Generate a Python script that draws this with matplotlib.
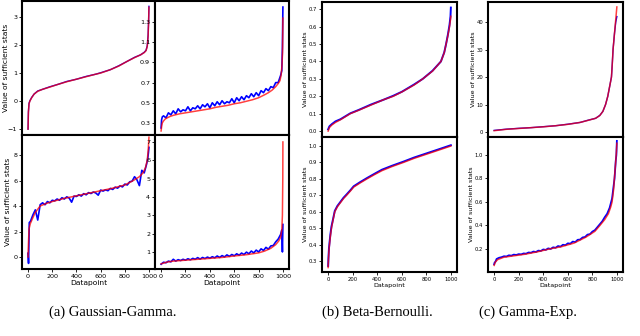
import matplotlib
matplotlib.use('Agg')
import matplotlib.pyplot as plt
import numpy as np

# ---- data ----
# (a) Gaussian-Gamma, top-left: red = estimate, blue = true (almost identical)
a_tl_x = [0, 3, 8, 15, 30, 50, 80, 120, 180, 250, 320, 400, 480, 560, 600, 680,
          750, 820, 880, 930, 960, 975, 985, 992, 996, 999]
a_tl_red = [-1.0, -0.4, -0.1, 0.0, 0.12, 0.25, 0.35, 0.42, 0.50, 0.60, 0.69, 0.78,
            0.87, 0.96, 1.0, 1.12, 1.25, 1.42, 1.55, 1.65, 1.73, 1.80, 1.95, 2.3, 2.8, 3.35]
a_tl_blue = [-1.0, -0.38, -0.08, 0.01, 0.13, 0.25, 0.36, 0.42, 0.51, 0.60, 0.70, 0.78,
             0.88, 0.96, 1.01, 1.12, 1.26, 1.42, 1.56, 1.65, 1.74, 1.81, 1.97, 2.35, 2.85, 3.38]

# noisy blue series share this x grid
noisy_x = [0, 4, 10] + list(range(20, 1000, 20)) + [990, 995, 999]

# (a) top-right
a_tr_x = [0, 5, 10, 20, 35, 50, 75, 100, 150, 200, 250, 300, 350, 400, 450, 500, 550,
          600, 650, 700, 750, 800, 850, 880, 910, 940, 960, 975, 985, 992, 996, 999]
a_tr_red = [0.22, 0.27, 0.30, 0.32, 0.34, 0.35, 0.365, 0.375, 0.39, 0.40, 0.41, 0.42,
            0.43, 0.44, 0.455, 0.465, 0.475, 0.49, 0.50, 0.515, 0.53, 0.55, 0.58, 0.60,
            0.625, 0.66, 0.69, 0.72, 0.78, 0.88, 1.0, 1.34]
a_tr_blue = [0.25, 0.33, 0.36,
             0.37, 0.35, 0.40, 0.38, 0.42, 0.39, 0.44, 0.41, 0.43, 0.42,
             0.46, 0.42, 0.45, 0.44, 0.47, 0.44, 0.48, 0.46, 0.49, 0.45,
             0.50, 0.47, 0.51, 0.48, 0.52, 0.49, 0.51, 0.50, 0.54, 0.50,
             0.55, 0.52, 0.56, 0.53, 0.57, 0.55, 0.59, 0.56, 0.60, 0.57,
             0.62, 0.60, 0.64, 0.62, 0.66, 0.65, 0.70, 0.70, 0.77,
             0.82, 1.05, 1.45]

# (a) bottom-left
a_bl_x = [0, 3, 8, 18, 36, 60, 100, 150, 200, 300, 400, 500, 600, 700, 800, 870,
          920, 950, 970, 985, 993, 999]
a_bl_red = [0.0, 1.0, 2.2, 2.6, 3.0, 3.5, 4.0, 4.2, 4.35, 4.6, 4.8, 5.0, 5.2, 5.4,
            5.65, 6.0, 6.3, 6.6, 7.0, 7.6, 8.4, 9.4]
a_bl_blue = [0.3, -0.5, 2.7,
             2.8, 3.3, 3.7, 2.9, 4.1, 4.25, 4.1, 4.35, 4.25,
             4.45, 4.4, 4.55, 4.45, 4.65, 4.55, 4.72, 4.62, 4.3, 4.78,
             4.75, 4.88, 4.78, 4.97, 4.88, 5.05, 4.98, 5.1, 5.02, 4.85,
             5.25, 5.17, 5.27, 5.2, 5.38, 5.3, 5.48, 5.4, 5.58, 5.5,
             5.72, 5.65, 5.9, 5.95, 6.3, 6.05, 5.6, 6.8, 6.6, 7.3,
             7.8, 8.2, 8.6]

# (a) bottom-right
a_br_x = [0, 50, 100, 200, 300, 400, 500, 600, 700, 800, 850, 900, 940, 965, 980,
          990, 995, 998, 999]
a_br_red = [0.35, 0.45, 0.5, 0.55, 0.6, 0.65, 0.7, 0.78, 0.85, 0.95, 1.05, 1.2, 1.4,
            1.6, 1.8, 2.2, 3.0, 5.0, 7.0]
a_br_blue = [0.33, 0.36, 0.38,
             0.44, 0.41, 0.5, 0.46, 0.6, 0.5, 0.58, 0.53, 0.6,
             0.55, 0.63, 0.57, 0.65, 0.6, 0.69, 0.61, 0.7, 0.64, 0.72,
             0.66, 0.74, 0.68, 0.78, 0.7, 0.8, 0.73, 0.84, 0.76, 0.86,
             0.79, 0.9, 0.82, 0.94, 0.86, 0.99, 0.9, 1.05, 0.95, 1.1,
             1.0, 1.17, 1.08, 1.25, 1.15, 1.33, 1.35, 1.55, 1.7, 1.95,
             2.2, 1.0, 2.5]

# (b) Beta-Bernoulli
b_top_x = [0, 10, 30, 60, 100, 180, 250, 350, 450, 530, 600, 700, 770, 850, 918,
           945, 960, 975, 988, 996, 999]
b_top_red = [0.0, 0.02, 0.035, 0.05, 0.065, 0.10, 0.12, 0.15, 0.18, 0.20, 0.225,
             0.265, 0.30, 0.345, 0.40, 0.45, 0.50, 0.55, 0.60, 0.64, 0.66]
b_top_blue = [0.01, 0.027, 0.04, 0.056, 0.068, 0.102, 0.122, 0.153, 0.18, 0.203, 0.226,
              0.268, 0.30, 0.347, 0.40, 0.452, 0.50, 0.555, 0.61, 0.66, 0.71]

b_bot_x = [0, 2, 4, 7, 11, 18, 27, 40, 54, 75, 100, 125, 150, 180, 208, 260, 316,
           375, 438, 520, 613, 700, 800, 900, 999]
b_bot_red = [0.26, 0.30, 0.33, 0.37, 0.40, 0.45, 0.50, 0.55, 0.60, 0.63, 0.655,
             0.68, 0.70, 0.725, 0.75, 0.775, 0.80, 0.825, 0.85, 0.875, 0.90, 0.925,
             0.95, 0.975, 1.0]
b_bot_blue = [0.27, 0.31, 0.34, 0.38, 0.41, 0.46, 0.51, 0.555, 0.605, 0.635, 0.66,
              0.685, 0.705, 0.73, 0.755, 0.78, 0.805, 0.83, 0.856, 0.88, 0.905, 0.93,
              0.955, 0.98, 1.005]

# (c) Gamma-Exp.
c_top_x = [0, 100, 200, 300, 400, 500, 600, 700, 760, 826, 860, 885, 907, 925, 940,
           955, 962, 968, 980, 990, 999]
c_top_red = [0.5, 1.0, 1.3, 1.6, 1.9, 2.3, 2.8, 3.5, 4.2, 5.0, 6.0, 7.5, 10.0, 13.0,
             16.5, 20.0, 25.0, 30.0, 36.0, 41.0, 45.5]
c_top_blue = [0.6, 1.05, 1.35, 1.6, 1.95, 2.3, 2.85, 3.5, 4.25, 5.0, 6.05, 7.5, 10.0,
              13.0, 16.5, 20.0, 25.0, 30.0, 36.0, 40.0, 42.0]

c_bot_x = [0, 10, 30, 80, 150, 250, 350, 450, 550, 650, 746, 820, 861, 900, 930,
           950, 960, 972, 979, 988, 995, 999]
c_bot_red = [0.06, 0.09, 0.11, 0.13, 0.14, 0.155, 0.175, 0.20, 0.22, 0.25, 0.30,
             0.35, 0.40, 0.45, 0.50, 0.56, 0.60, 0.70, 0.80, 0.92, 1.02, 1.1]
c_bot_blue = [0.07, 0.085, 0.09,
              0.115, 0.125, 0.13, 0.138, 0.136, 0.146, 0.143, 0.152, 0.149,
              0.156, 0.154, 0.162, 0.16, 0.17, 0.168, 0.178, 0.174, 0.186, 0.183,
              0.196, 0.192, 0.205, 0.2, 0.214, 0.21, 0.225, 0.22, 0.236, 0.232,
              0.248, 0.245, 0.263, 0.258, 0.278, 0.28, 0.298, 0.302, 0.322, 0.326,
              0.348, 0.36, 0.385, 0.41, 0.435, 0.47, 0.5, 0.55, 0.63, 0.80,
              0.95, 1.0, 1.12]

captions = ['(a) Gaussian-Gamma.', '(b) Beta-Bernoulli.', '(c) Gamma-Exp.']
ylabel = 'Value of sufficient stats'
xticks = [0, 200, 400, 600, 800, 1000]

# ---- figure ----
W, H = 640, 336
fig = plt.figure(figsize=(W / 100, H / 100), dpi=100)


def px_axes(x0, y0, x1, y1):
    # pixel box (top-left origin) -> figure axes
    return fig.add_axes([x0 / W, 1 - y1 / H, (x1 - x0) / W, (y1 - y0) / H])


def draw(ax, bx, by, rx, ry, ylim, yticks, fs, ylab=None, xlab=False, yfmt=None, blw=1.0):
    ax.plot(bx, by, color='blue', lw=blw)
    ax.plot(rx, ry, color='red', lw=1.1, alpha=0.75)
    ax.set_xlim(-50, 1049)
    ax.set_ylim(*ylim)
    ax.set_yticks(yticks)
    if yfmt:
        ax.set_yticklabels([yfmt % t for t in yticks])
    ax.tick_params(labelsize=fs, length=2, width=0.6, pad=1.5)
    for s in ax.spines.values():
        s.set_linewidth(1.5)
    if xlab:
        ax.set_xticks(xticks)
        ax.set_xlabel('Datapoint', fontsize=fs + 0.8, labelpad=1)
    else:
        ax.set_xticks([])
    if ylab is not None:
        ax.set_ylabel(ylabel, fontsize=fs + 0.8)
        ax.yaxis.set_label_coords(ylab, 0.5)


fa = 4.6
ax = px_axes(22, 1, 155, 135)
draw(ax, a_tl_x, a_tl_blue, a_tl_x, a_tl_red, (-1.21, 3.57), [-1, 0, 1, 2, 3], fa, ylab=-0.1)
ax = px_axes(155, 1, 289, 135)
draw(ax, noisy_x, a_tr_blue, a_tr_x, a_tr_red, (0.18, 1.51), [0.3, 0.5, 0.7, 0.9, 1.1, 1.3], fa,
     yfmt='%.1f', blw=1.2)
ax = px_axes(22, 135, 155, 269)
draw(ax, noisy_x, a_bl_blue, a_bl_x, a_bl_red, (-0.94, 9.57), [0, 2, 4, 6, 8], fa,
     ylab=-0.085, xlab=True, blw=1.2)
ax = px_axes(155, 135, 289, 269)
draw(ax, noisy_x, a_br_blue, a_br_x, a_br_red, (0.07, 7.38), [1, 2, 3, 4, 5, 6, 7], fa,
     xlab=True, blw=1.2)

fb = 3.8
ax = px_axes(322, 2, 457, 137)
draw(ax, b_top_x, b_top_blue, b_top_x, b_top_red, (-0.034, 0.742),
     [0.0, 0.1, 0.2, 0.3, 0.4, 0.5, 0.6, 0.7], fb, ylab=-0.105, yfmt='%.1f', blw=1.4)
ax = px_axes(322, 137, 457, 272)
draw(ax, b_bot_x, b_bot_blue, b_bot_x, b_bot_red, (0.233, 1.055),
     [0.3, 0.4, 0.5, 0.6, 0.7, 0.8, 0.9, 1.0], fb, ylab=-0.105, xlab=True, yfmt='%.1f', blw=1.4)

ax = px_axes(488, 2, 623, 137)
draw(ax, c_top_x, c_top_blue, c_top_x, c_top_red, (-1.8, 47.3), [0, 10, 20, 30, 40], fb,
     ylab=-0.09)
ax = px_axes(488, 137, 623, 272)
draw(ax, noisy_x, c_bot_blue, c_bot_x, c_bot_red, (0.004, 1.153),
     [0.2, 0.4, 0.6, 0.8, 1.0], fb, ylab=-0.105, xlab=True, yfmt='%.1f', blw=1.3)

for cap, cx in zip(captions, [113, 377, 528]):
    fig.text(cx / W, 1 - 312 / H, cap, ha='center', va='center',
             fontsize=10.5, family='Liberation Serif')

fig.savefig('out.png', dpi=100)
